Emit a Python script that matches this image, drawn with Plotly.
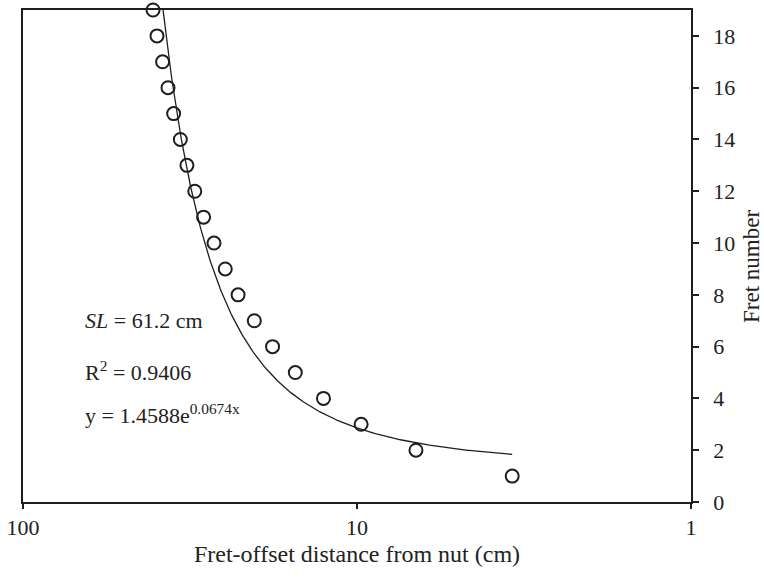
import numpy as np
import plotly.graph_objects as go

# Fret number and measured fret-offset distance from the nut (cm)
fret_number = [1, 2, 3, 4, 5, 6, 7, 8, 9, 10, 11, 12, 13, 14, 15, 16, 17, 18, 19]
offset_cm = [3.43, 6.66, 9.72, 12.6, 15.3, 17.9, 20.3, 22.7, 24.8, 26.8,
             28.8, 30.6, 32.3, 33.8, 35.4, 36.8, 38.2, 39.7, 40.8]

# Exponential fit y = a * exp(b * x)
fit_a = 1.4588
fit_b = 0.0674
fit_r2 = 0.9406
scale_length = 61.2

x_ticks = [100, 10, 1]
y_ticks = [0, 2, 4, 6, 8, 10, 12, 14, 16, 18]

fit_x = np.geomspace(min(offset_cm), max(offset_cm), 300)
fit_y = fit_a * np.exp(fit_b * fit_x)

FONT = "Liberation Serif"
INK = "#1e1e1e"
TEXT = "#222"

fig = go.Figure()
fig.add_trace(go.Scatter(
    x=fit_x, y=fit_y, mode="lines",
    line=dict(color=INK, width=1.3),
    showlegend=False, hoverinfo="skip",
))
fig.add_trace(go.Scatter(
    x=offset_cm, y=fret_number, mode="markers",
    marker=dict(symbol="circle-open", size=13, color=INK,
                line=dict(color=INK, width=2)),
    showlegend=False, cliponaxis=False,
))

fig.update_layout(
    width=764, height=578,
    margin=dict(l=23, r=73, t=10, b=76),
    paper_bgcolor="white", plot_bgcolor="white",
    font=dict(family=FONT, size=22, color=TEXT),
    xaxis=dict(
        type="log", range=[2, 0], automargin=False,
        tickvals=x_ticks, ticktext=[str(v) for v in x_ticks],
        ticks="outside", ticklen=5, tickwidth=1.5, tickcolor=INK,
        showline=True, linecolor=INK, linewidth=1.6, mirror=True,
        showgrid=False, zeroline=False,
        title=dict(text="Fret-offset distance from nut (cm)",
                   font=dict(family=FONT, size=24), standoff=6),
    ),
    yaxis=dict(
        side="right", range=[0, 19], automargin=False,
        tickvals=y_ticks,
        ticks="outside", ticklen=6, tickwidth=1.5, tickcolor=INK,
        ticklabelstandoff=10,
        showline=True, linecolor=INK, linewidth=1.6, mirror=True,
        showgrid=False, zeroline=False,
    ),
)

# Vertical axis title placed beside the right-hand tick labels
fig.add_annotation(
    text="Fret number", textangle=-90,
    xref="paper", yref="paper", x=1.0915, y=0.478,
    xanchor="center", yanchor="middle", showarrow=False,
    font=dict(family=FONT, size=23, color=TEXT),
)

notes = [
    (f"<i>SL</i> = {scale_length} cm", 0.368),
    (f"R<sup>2</sup> = {fit_r2}", 0.266),
    (f"y = {fit_a}e<sup>{fit_b}x</sup>", 0.178),
]
for text, ypos in notes:
    fig.add_annotation(
        text=text, xref="paper", yref="paper", x=0.09, y=ypos,
        xanchor="left", yanchor="middle", showarrow=False,
        font=dict(family=FONT, size=22, color=TEXT),
    )

fig.write_html("out.html")
